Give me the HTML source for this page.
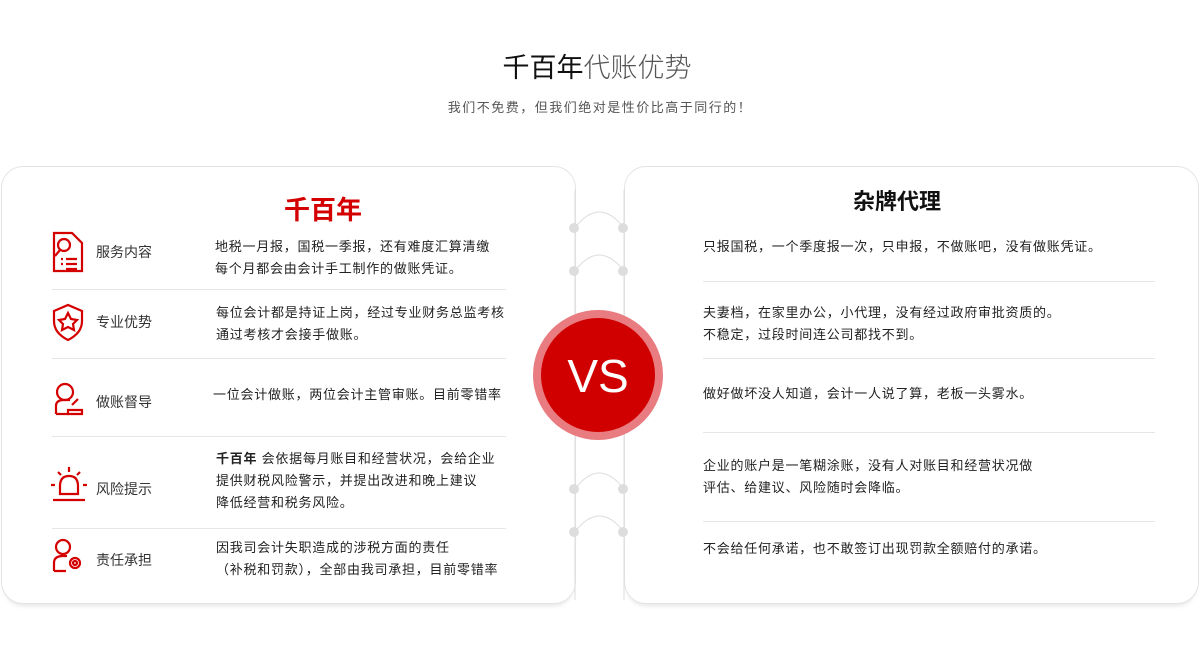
<!DOCTYPE html>
<html><head><meta charset="utf-8"><style>
*{margin:0;padding:0;box-sizing:border-box}
body{width:1200px;height:650px;background:#fff;position:relative;overflow:hidden;font-family:"Liberation Sans","Noto Sans CJK SC",sans-serif;color:#333}
.a{position:absolute;white-space:nowrap}
.card{position:absolute;top:166px;height:438px;border:1px solid #e3e3e3;border-radius:22px;background:#fff;box-shadow:0 5px 4px -3px #e6e6e6}
.hr{position:absolute;height:1px;background:#e6e6e6}
.lab{font-size:14px;color:#333}
.d{font-size:13px;line-height:22px;color:#222;letter-spacing:0.75px}
</style></head><body>
<div class="a" style="left:0;width:1194px;top:46px;text-align:center;font-size:27px;color:#222"><span style="color:#111">千百年</span><span style="color:#555;font-weight:300">代账优势</span></div>
<div class="a" style="left:0;width:1200px;top:97px;text-align:center;font-size:13px;color:#555;letter-spacing:1.5px">我们不免费，但我们绝对是性价比高于同行的！</div>

<div class="card" style="left:1px;width:575px"></div>
<div class="card" style="left:624px;width:575px"></div>

<svg class="a" style="left:0;top:0" width="1200" height="650">
<g stroke="#ddd" fill="none" stroke-width="1">
<line x1="575" y1="190" x2="575" y2="600"/><line x1="624" y1="190" x2="624" y2="600"/>
<path d="M575 228 Q599 196 624 228"/><path d="M575 271 Q599 239 624 271"/>
<path d="M575 489 Q599 457 624 489"/><path d="M575 532 Q599 500 624 532"/>
</g>
<g fill="#ddd"><circle cx="574" cy="228" r="5"/><circle cx="623" cy="228" r="5"/><circle cx="574" cy="271" r="5"/><circle cx="623" cy="271" r="5"/><circle cx="574" cy="489" r="5"/><circle cx="623" cy="489" r="5"/><circle cx="574" cy="532" r="5"/><circle cx="623" cy="532" r="5"/></g>
<circle cx="598" cy="375" r="65" fill="#e87c80"/>
<circle cx="598" cy="375" r="57" fill="#d00000"/>
<text x="598" y="392" text-anchor="middle" font-size="46" fill="#fff" font-family="Liberation Sans,sans-serif">VS</text>
<g stroke="#d40000" fill="none" stroke-width="2.2">
<path d="M54 233 h18 l10 10 v28 h-28 z"/><circle cx="64" cy="245" r="6"/><path d="M60 250 l-5 6"/><path d="M66 259 h11 M66 264 h11 M66 269 h11 M61 259h2 M61 264h2"/>
<path d="M54 311 l14 -6 l14 6 v10 q0 12 -14 19 q-14 -7 -14 -19 z"/><path d="M68 313 l3 6 l6 1 l-4 4 l1 6 l-6 -3 l-6 3 l1 -6 l-4 -4 l6 -1 z"/>
<circle cx="65" cy="392" r="8"/><path d="M56 414 v-8 q0 -6 8 -6 h6"/><path d="M56 414 h12"/><path d="M72 405 l6 -6 M68 410 h14 v4 h-14 z"/>
<path d="M60 494 v-8 q0 -10 9 -10 q9 0 9 10 v8 z"/><path d="M53 500 h32 M69 467 v5 M58 472 l3 3 M80 472 l-3 3 M51 485 h4 M83 485 h4"/>
<circle cx="63" cy="547" r="7"/><path d="M54 571 v-8 q0 -7 9 -7 h4 M54 571 h12"/><circle cx="75" cy="563" r="5"/><circle cx="75" cy="563" r="2"/>
</g>
</svg>

<div class="a" style="left:283px;width:80px;top:190px;text-align:center;font-size:26px;font-weight:bold;color:#d40000">千百年</div>
<div class="a" style="left:852px;width:90px;top:184px;text-align:center;font-size:22px;font-weight:bold;color:#111">杂牌代理</div>

<div class="hr" style="left:52px;width:454px;top:289px"></div>
<div class="hr" style="left:52px;width:454px;top:358px"></div>
<div class="hr" style="left:52px;width:454px;top:436px"></div>
<div class="hr" style="left:52px;width:454px;top:528px"></div>

<div class="a lab" style="left:96px;top:242px">服务内容</div>
<div class="a lab" style="left:96px;top:312px">专业优势</div>
<div class="a lab" style="left:96px;top:392px">做账督导</div>
<div class="a lab" style="left:96px;top:479px">风险提示</div>
<div class="a lab" style="left:96px;top:550px">责任承担</div>

<div class="a d" style="left:215px;top:236px">地税一月报，国税一季报，还有难度汇算清缴<br>每个月都会由会计手工制作的做账凭证。</div>
<div class="a d" style="left:216px;top:302px">每位会计都是持证上岗，经过专业财务总监考核<br>通过考核才会接手做账。</div>
<div class="a d" style="left:213px;top:384px">一位会计做账，两位会计主管审账。目前零错率</div>
<div class="a d" style="left:216px;top:448px"><b>千百年</b> 会依据每月账目和经营状况，会给企业<br>提供财税风险警示，并提出改进和晚上建议<br>降低经营和税务风险。</div>
<div class="a d" style="left:216px;top:537px">因我司会计失职造成的涉税方面的责任<br>（补税和罚款），全部由我司承担，目前零错率</div>

<div class="hr" style="left:703px;width:452px;top:281px"></div>
<div class="hr" style="left:703px;width:452px;top:358px"></div>
<div class="hr" style="left:703px;width:452px;top:432px"></div>
<div class="hr" style="left:703px;width:452px;top:521px"></div>

<div class="a d" style="left:703px;top:236px">只报国税，一个季度报一次，只申报，不做账吧，没有做账凭证。</div>
<div class="a d" style="left:703px;top:302px">夫妻档，在家里办公，小代理，没有经过政府审批资质的。<br>不稳定，过段时间连公司都找不到。</div>
<div class="a d" style="left:703px;top:383px">做好做坏没人知道，会计一人说了算，老板一头雾水。</div>
<div class="a d" style="left:703px;top:455px">企业的账户是一笔糊涂账，没有人对账目和经营状况做<br>评估、给建议、风险随时会降临。</div>
<div class="a d" style="left:703px;top:538px">不会给任何承诺，也不敢签订出现罚款全额赔付的承诺。</div>
</body></html>
